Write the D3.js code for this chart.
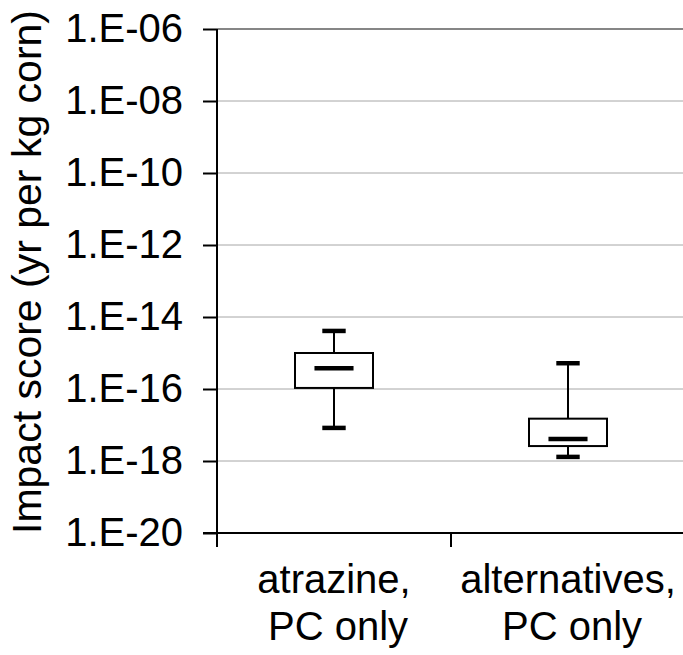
<!DOCTYPE html>
<html>
<head>
<meta charset="utf-8">
<script src="https://cdn.jsdelivr.net/npm/d3@7"></script>
<style>
  body { margin: 0; background: #fff; }
  text { font-family: "Liberation Sans", Arial, sans-serif; fill: #000; }
</style>
</head>
<body>
<svg id="chart" width="683" height="655"></svg>
<script>
var categories = ["atrazine, PC only", "alternatives, PC only"];
var labelLine1 = ["atrazine,", "alternatives,"];
var labelLine2 = ["PC only", "PC only"];
var whiskerHigh = [4.1e-15, 5.2e-16];
var boxTop = [1.0e-15, 1.5e-17];
var medians = [3.8e-16, 4.1e-18];
var boxBottom = [1.07e-16, 2.6e-18];
var whiskerLow = [8.3e-18, 1.3e-18];
var yTicks = [1e-6, 1e-8, 1e-10, 1e-12, 1e-14, 1e-16, 1e-18, 1e-20];

var svg = d3.select("#chart");
var plotLeft = 217, plotRight = 685, plotTop = 29, plotBottom = 533;

var data = categories.map(function(c, i) {
	return { cat: c, hi: whiskerHigh[i], q3: boxTop[i], med: medians[i], q1: boxBottom[i], lo: whiskerLow[i] };
});

var yScale = d3.scaleLog()
	.domain([1e-20, 1e-6])
	.range([plotBottom, plotTop]);

var xScale = d3.scaleBand()
	.domain(categories)
	.range([plotLeft, plotRight])
	.padding(0);

function fmt(d) {
	var e = Math.round(Math.log10(d));
	var s = String(Math.abs(e)).padStart(2, "0");
	return "1.E" + (e < 0 ? "-" : "+") + s;
}

// gridlines
svg.append("g").selectAll("line")
	.data(yTicks.slice(1, -1))
	.enter().append("line")
		.attr("x1", plotLeft).attr("x2", 683)
		.attr("y1", function(d) { return yScale(d); })
		.attr("y2", function(d) { return yScale(d); })
		.attr("stroke", "#a6a6a6")
		.attr("stroke-width", 1);

svg.append("line")
	.attr("x1", plotLeft).attr("x2", 683)
	.attr("y1", yScale(1e-6)).attr("y2", yScale(1e-6))
	.attr("stroke", "#868686")
	.attr("stroke-width", 2);

// y axis
var yAxis = d3.axisLeft(yScale)
	.tickValues(yTicks)
	.tickFormat(fmt)
	.tickSize(14)
	.tickSizeOuter(0)
	.tickPadding(20);

var gy = svg.append("g")
	.attr("transform", "translate(" + plotLeft + ",0)")
	.call(yAxis);
gy.select(".domain").attr("stroke", "#000").attr("stroke-width", 2)
	.attr("d", "M0," + plotTop + "V" + (plotBottom + 14));
gy.selectAll(".tick line").attr("stroke", "#000").attr("stroke-width", 2);
gy.selectAll(".tick text")
	.style("font-size", "40px")
	.style("font-family", "'Liberation Sans', Arial, sans-serif")
	.attr("fill", "#000");

// x axis
var xAxis = d3.axisBottom(xScale)
	.tickSize(0)
	.tickFormat("");
var gx = svg.append("g")
	.attr("transform", "translate(0," + plotBottom + ")")
	.call(xAxis);
gx.select(".domain").attr("stroke", "#000").attr("stroke-width", 2)
	.attr("d", "M" + (plotLeft - 14) + ",0H" + plotRight);

gx.selectAll(".sep")
	.data(categories.slice(1))
	.enter().append("line")
		.attr("class", "sep")
		.attr("x1", function(d) { return xScale(d); })
		.attr("x2", function(d) { return xScale(d); })
		.attr("y1", 0).attr("y2", 14)
		.attr("stroke", "#000")
		.attr("stroke-width", 2);

var labels = svg.append("g").selectAll("text")
	.data(data)
	.enter().append("text")
		.attr("text-anchor", "middle")
		.style("font-size", "40px")
		.attr("x", function(d) { return xScale(d.cat) + xScale.bandwidth() / 2; })
		.attr("y", 593);
labels.append("tspan")
	.attr("x", function(d) { return xScale(d.cat) + xScale.bandwidth() / 2; })
	.text(function(d, i) { return labelLine1[i]; });
labels.append("tspan")
	.attr("x", function(d) { return xScale(d.cat) + xScale.bandwidth() / 2 + 4; })
	.attr("dy", 47)
	.text(function(d, i) { return labelLine2[i]; });

// y title
svg.append("text")
	.attr("transform", "translate(41,272) rotate(-90)")
	.attr("text-anchor", "middle")
	.style("font-size", "41px")
	.text("Impact score (yr per kg corn)");

// boxes
var bw = xScale.bandwidth();
var boxW = bw / 3, capW = bw * 0.1, medW = bw * 0.167;

var box = svg.append("g").selectAll(".box")
	.data(data)
	.enter().append("g")
		.attr("class", "box")
		.attr("transform", function(d) { return "translate(" + (xScale(d.cat) + bw / 2) + ",0)"; });

box.append("line")
	.attr("x1", 0).attr("x2", 0)
	.attr("y1", function(d) { return yScale(d.hi); })
	.attr("y2", function(d) { return yScale(d.lo); })
	.attr("stroke", "#000").attr("stroke-width", 2);

box.append("rect")
	.attr("x", -boxW / 2)
	.attr("width", boxW)
	.attr("y", function(d) { return yScale(d.q3); })
	.attr("height", function(d) { return yScale(d.q1) - yScale(d.q3); })
	.attr("fill", "#fff").attr("stroke", "#000").attr("stroke-width", 2);

box.selectAll(".cap")
	.data(function(d) { return [d.hi, d.lo]; })
	.enter().append("line")
		.attr("class", "cap")
		.attr("x1", -capW / 2).attr("x2", capW / 2)
		.attr("y1", function(d) { return yScale(d); })
		.attr("y2", function(d) { return yScale(d); })
		.attr("stroke", "#000").attr("stroke-width", 4.5);

box.append("line")
	.attr("x1", -medW / 2).attr("x2", medW / 2)
	.attr("y1", function(d) { return yScale(d.med); })
	.attr("y2", function(d) { return yScale(d.med); })
	.attr("stroke", "#000").attr("stroke-width", 4.5);
</script>
</body>
</html>
